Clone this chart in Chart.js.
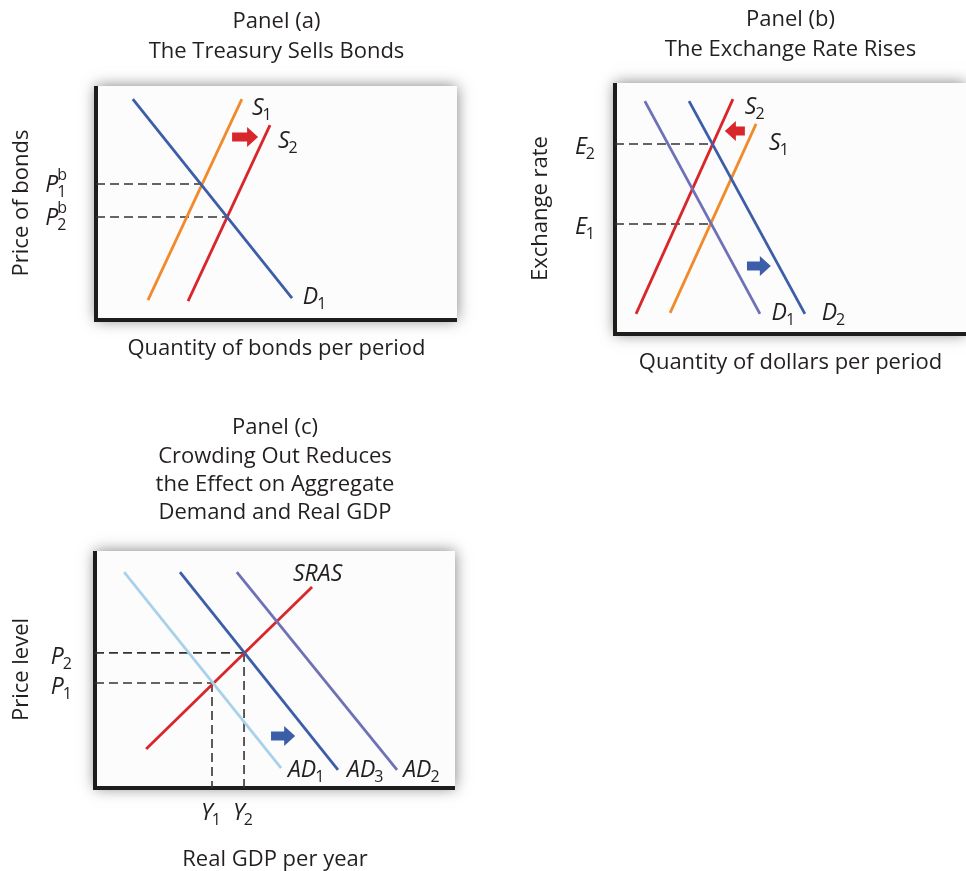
<!DOCTYPE html>
<html>
<head>
<meta charset="utf-8">
<script src="https://cdn.jsdelivr.net/npm/chart.js@4"></script>
<style>
  body { margin: 0; background: #fff; width: 966px; height: 871px; position: relative; overflow: hidden; }
  canvas { position: absolute; }
</style>
</head>
<body>
<canvas id="panelA" width="480" height="380" style="left:0;top:0"></canvas>
<canvas id="panelB" width="466" height="380" style="left:500px;top:0"></canvas>
<canvas id="panelC" width="480" height="471" style="left:0;top:400px"></canvas>
<script>
// panel (a): bond market, [quantity, price] on a 0-100 scale
const bondS1 = [[14.4, 8.5], [40.4, 94.4]];
const bondS2 = [[25.5, 8.1], [48.2, 83.3]];
const bondD1 = [[10.2, 94.4], [54.3, 9.4]];
const bondEq = [[29.2, 58.1], [36.4, 44.0]];     // P1b, P2b
const bondShift = [37.7, 44.9, 78.2];            // from x, to x, at y

// panel (b): foreign exchange market
const fxD1 = [[8.5, 92.8], [41.3, 8.0]];
const fxD2 = [[21.1, 92.8], [54.1, 8.0]];
const fxS1 = [[15.7, 8.4], [40.2, 83.7]];
const fxS2 = [[6.0, 8.0], [33.6, 93.6]];
const fxEq = [[27.2, 43.8], [27.8, 75.7]];       // E1, E2
const fxSupplyShift = [37.0, 31.3, 80.9];
const fxDemandShift = [37.6, 44.4, 27.1];

// panel (c): aggregate demand / SRAS
const adAD1 = [[8.1, 91.1], [51.7, 8.4]];
const adAD3 = [[23.6, 91.1], [67.5, 7.6]];
const adAD2 = [[39.4, 91.1], [83.9, 7.6]];
const adSRAS = [[14.2, 16.5], [60.3, 84.8]];
const adEq = [[32.5, 44.3], [41.4, 57.0]];       // (Y1,P1), (Y2,P2)
const adShift = [48.9, 55.6, 21.9];

const FONT = '"Open Sans", "Noto Sans", sans-serif';
const INK = '#231f20';
const ORANGE = '#f28a2b', RED = '#d8262b', BLUE = '#3c5da7', PURPLE = '#6f71b6', LIGHT = '#a9d2ea';

const pts = arr => arr.map(p => ({ x: p[0], y: p[1] }));
const curve = (arr, color) => ({ data: pts(arr), borderColor: color, borderWidth: 2.8, showLine: true, pointRadius: 0, order: 1 });
const dashed = arr => ({ data: pts(arr), borderColor: '#333', borderWidth: 1.6, borderDash: [9, 5], showLine: true, pointRadius: 0, order: 2 });
const hDash = eq => dashed([[0, eq[1]], eq]);
const vDash = eq => dashed([eq, [eq[0], 0]]);

// italic letter with upright subscript / superscript
function symWidth(ctx, s) {
    ctx.font = 'italic 23px ' + FONT;
    let w = ctx.measureText(s.main).width;
    ctx.font = '16px ' + FONT;
    w += Math.max(s.sub ? ctx.measureText(s.sub).width : 0, s.sup ? ctx.measureText(s.sup).width : 0);
    return w;
}
function drawSym(ctx, s, x, y) {
    const base = y + 8;
    ctx.fillStyle = INK;
    ctx.textAlign = 'left';
    ctx.textBaseline = 'alphabetic';
    ctx.font = 'italic 23px ' + FONT;
    ctx.fillText(s.main, x, base);
    const w = ctx.measureText(s.main).width;
    ctx.font = '16px ' + FONT;
    if (s.sub) ctx.fillText(s.sub, x + w - 1, base + 5);
    if (s.sup) ctx.fillText(s.sup, x + w - 1, base - 12);
}
function drawArrow(ctx, x0, x1, y, color) {
    const dir = Math.sign(x1 - x0), xh = x1 - dir * 11;
    ctx.fillStyle = color;
    ctx.beginPath();
    ctx.moveTo(x0, y - 4.5); ctx.lineTo(xh, y - 4.5); ctx.lineTo(xh, y - 10);
    ctx.lineTo(x1, y); ctx.lineTo(xh, y + 10); ctx.lineTo(xh, y + 4.5); ctx.lineTo(x0, y + 4.5);
    ctx.closePath();
    ctx.fill();
}

// box with shadow + thick axes
const framePlugin = {
    id: 'frame',
    beforeDatasetsDraw(chart) {
        const { ctx, chartArea: a } = chart;
        ctx.save();
        ctx.shadowColor = 'rgba(0,0,0,0.5)';
        ctx.shadowBlur = 14;
        ctx.fillStyle = '#fcfcfc';
        ctx.fillRect(a.left, a.top, a.right - a.left, a.bottom - a.top);
        ctx.restore();
        ctx.save();
        ctx.strokeStyle = '#1d1d1b';
        ctx.lineWidth = 4;
        ctx.beginPath();
        ctx.moveTo(a.left, a.top);
        ctx.lineTo(a.left, a.bottom);
        ctx.lineTo(a.right, a.bottom);
        ctx.stroke();
        ctx.restore();
    }
};

const notesPlugin = {
    id: 'notes',
    afterDatasetsDraw(chart, args, opts) {
        const { ctx, chartArea: a, scales: { x, y } } = chart;
        ctx.save();
        (opts.arrows || []).forEach(ar => drawArrow(ctx, x.getPixelForValue(ar[0]), x.getPixelForValue(ar[1]), y.getPixelForValue(ar[2]), ar[3]));
        (opts.labels || []).forEach(l => drawSym(ctx, l, x.getPixelForValue(l.x), y.getPixelForValue(l.y)));
        (opts.yLabels || []).forEach(l => {
            const w = symWidth(ctx, l);
            drawSym(ctx, l, a.left - opts.yGap - w, y.getPixelForValue(l.value) + (opts.yShift || 0));
        });
        (opts.xLabels || []).forEach(l => drawSym(ctx, l, x.getPixelForValue(l.value) - 11, a.bottom + 24));
        ctx.restore();
    }
};

function makePanel(id, cfg) {
    const axisFont = { family: FONT, size: 22, lineHeight: 1.0 };
    return new Chart(document.getElementById(id), {
        type: 'scatter',
        data: { datasets: cfg.datasets },
        options: {
            responsive: false,
            animation: false,
            events: [],
            layout: { padding: cfg.padding },
            plugins: {
                legend: { display: false },
                tooltip: { enabled: false },
                title: {
                    display: true, fullSize: false, text: cfg.title, color: INK,
                    font: { family: FONT, size: 22, weight: 'normal', lineHeight: cfg.titleLine / 22 },
                    padding: cfg.titlePad
                },
                notes: cfg.notes
            },
            scales: {
                x: {
                    type: 'linear', min: 0, max: 100,
                    ticks: { display: false }, grid: { display: false }, border: { display: false },
                    title: { display: true, text: cfg.xTitle, color: INK, font: axisFont, padding: { top: 0, bottom: cfg.xTitlePad } },
                    afterFit: s => { s.height = cfg.xH; }
                },
                y: {
                    type: 'linear', min: 0, max: 100,
                    ticks: { display: false }, grid: { display: false }, border: { display: false },
                    title: { display: true, text: cfg.yTitle, color: INK, font: axisFont, padding: { top: cfg.yTitlePad, bottom: 0 } },
                    afterFit: s => { s.width = cfg.yW; }
                }
            }
        },
        plugins: [framePlugin, notesPlugin]
    });
}

makePanel('panelA', {
    title: ['Panel (a)', 'The Treasury Sells Bonds'],
    titleLine: 30, titlePad: { top: 7, bottom: 19 },
    padding: { left: 0, right: 23, top: 0, bottom: 0 },
    xTitle: 'Quantity of bonds per period', xH: 60, xTitlePad: 20,
    yTitle: 'Price of bonds', yW: 96, yTitlePad: 11,
    datasets: [
        hDash(bondEq[0]), hDash(bondEq[1]),
        curve(bondD1, BLUE), curve(bondS1, ORANGE), curve(bondS2, RED)
    ],
    notes: {
        arrows: [[bondShift[0], bondShift[1], bondShift[2], RED]],
        labels: [
            { main: 'S', sub: '1', x: 43.2, y: 91.0 },
            { main: 'S', sub: '2', x: 50.4, y: 77.1 },
            { main: 'D', sub: '1', x: 57.3, y: 10.3 }
        ],
        yGap: 28, yShift: 0,
        yLabels: [
            { main: 'P', sub: '1', sup: 'b', value: bondEq[0][1] },
            { main: 'P', sub: '2', sup: 'b', value: bondEq[1][1] }
        ]
    }
});

makePanel('panelB', {
    title: ['Panel (b)', 'The Exchange Rate Rises'],
    titleLine: 30, titlePad: { top: 5, bottom: 18 },
    padding: { left: 0, right: 0, top: 0, bottom: 0 },
    xTitle: 'Quantity of dollars per period', xH: 46, xTitlePad: 6,
    yTitle: 'Exchange rate', yW: 115, yTitlePad: 30,
    datasets: [
        hDash(fxEq[0]), hDash(fxEq[1]),
        curve(fxD1, PURPLE), curve(fxD2, BLUE), curve(fxS1, ORANGE), curve(fxS2, RED)
    ],
    notes: {
        arrows: [
            [fxSupplyShift[0], fxSupplyShift[1], fxSupplyShift[2], RED],
            [fxDemandShift[0], fxDemandShift[1], fxDemandShift[2], BLUE]
        ],
        labels: [
            { main: 'S', sub: '2', x: 37.0, y: 90.8 },
            { main: 'S', sub: '1', x: 43.9, y: 76.3 },
            { main: 'D', sub: '1', x: 44.6, y: 8.8 },
            { main: 'D', sub: '2', x: 58.9, y: 8.8 }
        ],
        yGap: 19, yShift: 2,
        yLabels: [
            { main: 'E', sub: '1', value: fxEq[0][1] },
            { main: 'E', sub: '2', value: fxEq[1][1] }
        ]
    }
});

makePanel('panelC', {
    title: ['Panel (c)', 'Crowding Out Reduces', 'the Effect on Aggregate', 'Demand and Real GDP'],
    titleLine: 28.3, titlePad: { top: 13.85, bottom: 23.95 },
    padding: { left: 0, right: 25, top: 0, bottom: 0 },
    xTitle: 'Real GDP per year', xH: 83, xTitlePad: 0,
    yTitle: 'Price level', yW: 95, yTitlePad: 11,
    datasets: [
        hDash(adEq[0]), hDash(adEq[1]), vDash(adEq[0]), vDash(adEq[1]),
        curve(adAD1, LIGHT), curve(adAD3, BLUE), curve(adAD2, PURPLE), curve(adSRAS, RED)
    ],
    notes: {
        arrows: [[adShift[0], adShift[1], adShift[2], BLUE]],
        labels: [
            { main: 'SRAS', x: 55.0, y: 90.7 },
            { main: 'AD', sub: '1', x: 53.6, y: 8.0 },
            { main: 'AD', sub: '3', x: 70.0, y: 8.0 },
            { main: 'AD', sub: '2', x: 85.6, y: 8.0 }
        ],
        yGap: 22, yShift: 3,
        yLabels: [
            { main: 'P', sub: '1', value: adEq[0][1] },
            { main: 'P', sub: '2', value: adEq[1][1] }
        ],
        xLabels: [
            { main: 'Y', sub: '1', value: adEq[0][0] },
            { main: 'Y', sub: '2', value: adEq[1][0] }
        ]
    }
});
</script>
</body>
</html>
